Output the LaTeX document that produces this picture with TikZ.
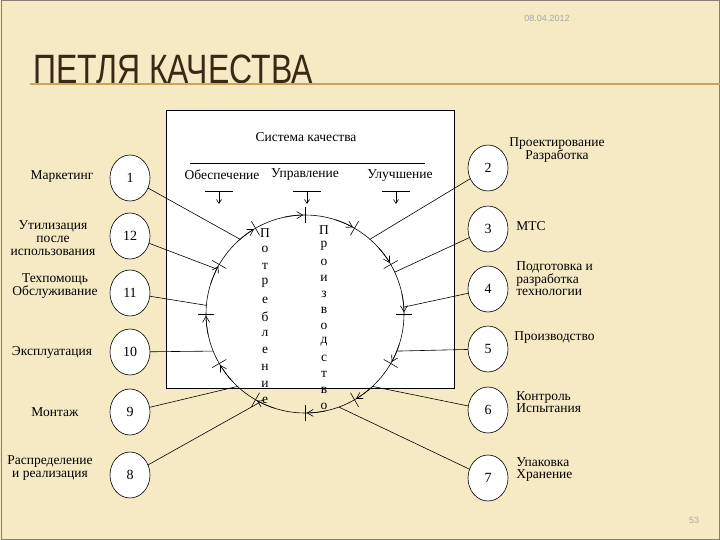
\documentclass[tikz,border=0pt]{standalone}
\usepackage{fontspec}
\setmainfont{Liberation Serif}
\newfontfamily\titlefont{Liberation Sans}
\usetikzlibrary{calc,arrows.meta,shapes.geometric}
\definecolor{bgc}{RGB}{246,234,196}
\definecolor{titc}{RGB}{58,40,22}
\definecolor{linec}{RGB}{200,165,90}
\tikzset{
  num/.style={draw,ellipse,fill=white,minimum width=40pt,minimum height=46pt,inner sep=0pt,font=\fontsize{14}{14}\selectfont},
  lbl/.style={font=\fontsize{13.5}{13}\selectfont,align=center,inner sep=0pt},
  lbll/.style={font=\fontsize{13.5}{12}\selectfont,align=left,anchor=west,inner sep=0pt},
  vlet/.style={font=\fontsize{13.5}{13}\selectfont,inner sep=0pt},
  conn/.style={draw,line width=0.6pt}
}
\begin{document}
\begin{tikzpicture}[x=1pt,y=-1pt,line width=0.6pt]
\useasboundingbox (0,0) rectangle (720,540);
\fill[bgc] (0,0) rectangle (720,540);
\draw[titc!60,line width=1pt] (1,1) rectangle (719,539);
\node[anchor=base,text=gray!70,font=\fontsize{9}{9}\selectfont\titlefont] (date) at (547,22) {08.04.2012};
\node[anchor=base west,text=titc,font=\fontsize{41}{41}\selectfont\titlefont,xscale=0.78,inner sep=0pt] (title) at (33,84) {ПЕТЛЯ КАЧЕСТВА};
\draw[linec,line width=1.2pt] (30,84) -- (720,84);
\node[anchor=base,text=gray!70,font=\fontsize{9}{9}\selectfont\titlefont] (pg) at (694,523) {53};
% box
\draw[fill=white] (166,110) rectangle (454,388);
\node[lbl] (sys) at (306,137) {Система качества};
\draw (190,163) -- (425,163);
\node[lbl] (obs) at (222,175) {Обеспечение};
\node[lbl] (upr) at (305,175) {Управление};
\node[lbl] (ulu) at (400,176) {Улучшение};
\foreach \x in {219,307,396}{
  \draw (\x-14,191) -- (\x+14,191);
  \draw[-{Straight Barb[length=4pt,width=5pt]}] (\x,191) -- (\x,204);
}
% circle
\coordinate (c) at (305,314);
\draw (c) circle (99);
\foreach \a in {0,30,...,330}{
  \draw ($(c)+(-\a:91)$) -- ($(c)+(-\a:107)$);
  \draw[-{Straight Barb[length=6pt,width=7pt]}] ($(c)+(-\a-12:99)$) arc[start angle=-\a-12,end angle=-\a-1,radius=99];
}
% vertical words
\foreach \l [count=\i] in {П,о,т,р,е,б,л,е,н,и,е}{
  \node[vlet] at (265,216+16.8*\i) {\l};
}
\foreach \l [count=\i] in {П,р,о,и,з,в,о,д,с,т,в,о}{
  \node[vlet] at (324,214+16*\i) {\l};
}
% left nodes
\node[num] (n1) at (130,178) {1};
\node[num] (n12) at (130,236) {12};
\node[num] (n11) at (130,293) {11};
\node[num] (n10) at (130,352) {10};
\node[num] (n9) at (130,412) {9};
\node[num] (n8) at (130,475) {8};
\node[num] (n2) at (488,168) {2};
\node[num] (n3) at (488,229) {3};
\node[num] (n4) at (488,289) {4};
\node[num] (n5) at (488,349) {5};
\node[num] (n6) at (488,410) {6};
\node[num] (n7) at (488,478) {7};
% end points
\coordinate (e1) at ($(c)+(-131:99)$);
\coordinate (e12) at ($(c)+(-153:99)$);
\coordinate (e11) at ($(c)+(-175:99)$);
\coordinate (e10) at ($(c)+(-202:99)$);
\coordinate (e9) at ($(c)+(-227:99)$);
\coordinate (e8) at ($(c)+(-243:99)$);
\coordinate (e2) at ($(c)+(-49:99)$);
\coordinate (e3) at ($(c)+(-25:99)$);
\coordinate (e4) at ($(c)+(-4:99)$);
\coordinate (e5) at ($(c)+(22:99)$);
\coordinate (e6) at ($(c)+(47:99)$);
\coordinate (e7) at ($(c)+(70:99)$);
\foreach \n in {1,12,11,10,9,8,2,3,4,5,6,7}{
  \draw (n\n) -- (e\n);
}
% left labels
\node[lbl] (l1) at (62,177) {Маркетинг};
\node[lbl] (l12) at (53,238) {Утилизация\\после\\использования};
\node[lbl] (l11) at (55,286) {Техпомощь\\Обслуживание};
\node[lbl] (l10) at (52,352) {Эксплуатация};
\node[lbl] (l9) at (55,412) {Монтаж};
\node[lbl] (l8) at (50,468) {Распределение\\и реализация};
% right labels
\node[lbl] (r2) at (557,150) {Проектирование\\Разработка};
\node[lbll] (r3) at (516,226) {МТС};
\node[lbll] (r4) at (516,279) {Подготовка и\\разработка\\технологии};
\node[lbll] (r5) at (514,338) {Производство};
\node[lbll] (r6) at (516,402) {Контроль\\Испытания};
\node[lbll] (r7) at (516,470) {Упаковка\\Хранение};
\end{tikzpicture}
\end{document}
